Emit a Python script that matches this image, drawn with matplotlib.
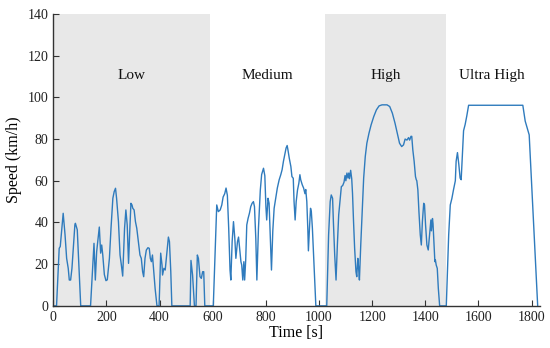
import matplotlib
matplotlib.use("Agg")
import matplotlib.pyplot as plt

# speed trace (time in s, speed in km/h)
t_low = [0, 12, 22, 26, 37, 44, 50, 56, 60, 65, 70, 81, 83, 90, 103, 140, 153, 158, 163, 169,
         173, 178, 182, 186, 192, 198, 203, 211, 217, 224, 229, 234, 238, 245, 251, 256, 261,
         268, 273, 278, 283, 288, 292, 296, 299, 304, 309, 314, 320, 326, 331, 336, 340, 345,
         350, 356, 361, 365, 369, 373, 376, 383, 390, 398, 404, 409, 411, 416, 421, 427, 433,
         437, 442, 446, 515, 518, 524, 531, 537, 542, 546, 552, 557, 562, 566, 570]
v_low = [0, 0, 27.6, 28.5, 44.4, 34.1, 22.8, 18, 12.4, 12.4, 18, 38.8, 39.6, 36.5, 0, 0, 30.0,
         12.4, 26, 33, 37.8, 25.3, 29.2, 24.4, 15, 12.1, 12.5, 22.8, 37.2, 51.6, 54.8, 56.4,
         51.6, 40.4, 24.4, 19.6, 14.3, 37.2, 46, 38.8, 20.4, 37.2, 49.2, 48.4, 46.8, 46.0, 40.4,
         37.2, 30.8, 24.4, 22.8, 16.4, 14, 22.8, 26.8, 27.9, 27.6, 22.8, 21.2, 24.4, 19.6, 8.4,
         0, 0, 25.3, 19.6, 14.8, 18, 17.2, 25, 33, 30.8, 16.4, 0, 0, 21.8, 14.8, 0, 0, 24.4,
         22.8, 14, 13.2, 16.4, 16.4, 0]

t_med = [602, 615, 621, 628, 634, 639, 645, 650, 655, 660, 665, 668, 673, 678, 683, 687, 693,
         697, 701, 706, 709, 713, 717, 720, 724, 728, 733, 738, 743, 748, 753, 757, 762, 766,
         772, 779, 784, 791, 796, 800, 803, 808, 812, 817, 821, 826, 831, 837, 843, 850, 856,
         861, 866, 871, 876, 880, 883, 888, 894, 898, 903, 906, 910, 914, 919, 924, 928, 931,
         937, 942, 947, 950, 954, 958, 960, 964, 968, 971, 975, 982, 988]
v_med = [0, 48.4, 45.2, 46, 48.4, 52.2, 53.8, 56.5, 53, 37.2, 17.2, 12.4, 30.8, 40.4, 32.4,
         22.8, 30.8, 33, 27.6, 21.2, 19.6, 12.4, 21.2, 12.4, 22, 38.8, 42, 44.4, 47.6, 49.2, 50,
         47.6, 32.4, 12.4, 37.2, 55.6, 63, 66, 62.4, 47.6, 41.2, 51.6, 49.2, 30.8, 17.2, 36,
         46.8, 51.6, 56.5, 60.5, 62.9, 65.3, 69.3, 72.5, 75.7, 76.9, 74.8, 70.8, 66.8, 62, 61.2,
         50, 41.2, 50, 55.6, 58.8, 62.9, 60.5, 58, 56.5, 53.8, 55.8, 50, 36, 26.4, 37.2, 46.8,
         45.2, 37.2, 17.2, 0]

t_high = [1029, 1036, 1042, 1046, 1051, 1054, 1059, 1064, 1069, 1074, 1080, 1084, 1089, 1094,
          1098, 1101, 1105, 1109, 1112, 1115, 1119, 1123, 1126, 1130, 1134, 1139, 1142, 1146,
          1149, 1152, 1157, 1163, 1168, 1174, 1180, 1188, 1196, 1206, 1216, 1226, 1237, 1256,
          1266, 1276, 1286, 1296, 1303, 1311, 1318, 1324, 1331, 1337, 1341, 1346, 1349, 1353,
          1358, 1363, 1366, 1368, 1372, 1376, 1381, 1385, 1389, 1394, 1397, 1401, 1406, 1411,
          1418, 1421, 1423, 1427, 1429, 1433, 1436, 1438, 1441, 1445, 1449, 1454]
v_high = [0, 34, 50, 53.2, 51.6, 40.4, 24.4, 12.4, 29.2, 43.6, 52, 57.2, 57.7, 59.3, 62.5, 60,
          63.7, 61.3, 63.7, 61, 65, 61, 54, 40, 27.6, 16.4, 14, 22.8, 18, 12.4, 29.2, 46.8,
          61.3, 71.6, 78, 82.8, 86.8, 90.8, 94, 95.9, 96.4, 96.4, 95.6, 92.4, 87.6, 82, 78,
          76.4, 77.2, 80, 79.5, 80.7, 79.5, 81.3, 81.3, 74.8, 69.3, 62, 60.5, 60, 55.6, 45.2,
          34.1, 29.2, 40.4, 49.2, 48.5, 38.8, 29.2, 26.8, 37.2, 41.2, 36, 41.9, 39.5, 29.2,
          21.2, 22, 19.6, 18, 8.4, 0]

t_xhigh = [1479, 1488, 1494, 1500, 1506, 1513, 1516, 1521, 1526, 1531, 1535, 1544, 1550, 1556,
           1563, 1767, 1776, 1791, 1823]
v_xhigh = [0, 34.1, 48.4, 51.5, 55.6, 60, 69.3, 73.5, 68, 61.3, 60.5, 84, 87, 91, 96.2, 96.2,
           88.6, 82, 0]

phase_names = ["Low", "Medium", "High", "Ultra High"]
phase_edges = [0, 589, 1022, 1477, 1823]

time = t_low + t_med + t_high + t_xhigh
speed = v_low + v_med + v_high + v_xhigh

plt.rcParams["font.family"] = ["Liberation Serif", "DejaVu Serif"]

fig = plt.figure(figsize=(5.5, 3.48), dpi=100)
ax = fig.add_axes([0.097, 0.121, 0.884, 0.839])

# grey bands behind Low and High
for i in (0, 2):
    ax.axvspan(phase_edges[i], phase_edges[i + 1], color="#e8e8e8", lw=0, zorder=0)
for i, name in enumerate(phase_names):
    ax.text((phase_edges[i] + phase_edges[i + 1]) / 2, 110.5, name,
            ha="center", va="center", fontsize=11, color="#111111")

# below the spines so the idle stretches hide under the x axis
ax.plot(time, speed, color="#2f7bbd", lw=1.0, zorder=2)

ax.set_xlim(0, 1830)
ax.set_ylim(0, 140)
ax.set_xticks(range(0, 1801, 200))
ax.set_yticks(range(0, 141, 20))
ax.set_xlabel("Time [s]", fontsize=11.5, labelpad=1)
ax.set_ylabel("Speed (km/h)", fontsize=11.5, labelpad=4)
ax.tick_params(direction="in", labelsize=10, length=4, width=0.8, colors="#333333",
               labelcolor="#222222")
for s in ("top", "right"):
    ax.spines[s].set_visible(False)
for s in ("left", "bottom"):
    ax.spines[s].set_color("#333333")
    ax.spines[s].set_linewidth(1.0)

fig.savefig("out.png", dpi=100)
